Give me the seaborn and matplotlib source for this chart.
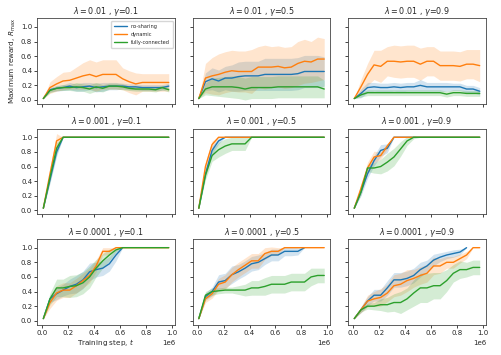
import numpy as np
import seaborn as sns
import matplotlib
matplotlib.use("Agg")
import matplotlib.pyplot as plt

nan = np.nan

# training steps where the runs were evaluated
steps = [10000, 61000, 112000, 162000, 213000, 264000, 315000, 366000, 416000, 467000,
         518000, 569000, 620000, 670000, 721000, 772000, 823000, 874000, 924000, 975000]

lambdas = ["0.01", "0.001", "0.0001"]
gammas = ["0.1", "0.5", "0.9"]
series = ["no-sharing", "dynamic", "fully-connected"]

# one row per panel: (0.01,0.1) (0.01,0.5) (0.01,0.9) (0.001,0.1) ... (0.0001,0.9)
nosharing_mean = [
    [0.02, 0.14, 0.16, 0.17, 0.19, 0.17, 0.18, 0.19, 0.17, 0.18, 0.19, 0.19, 0.19, 0.18, 0.18, 0.17, 0.17, 0.17, 0.17, 0.19],
    [0.02, 0.25, 0.29, 0.26, 0.30, 0.30, 0.32, 0.33, 0.33, 0.33, 0.35, 0.35, 0.35, 0.35, 0.35, 0.36, 0.39, 0.39, 0.39, 0.39],
    [0.02, 0.09, 0.17, 0.18, 0.17, 0.17, 0.18, 0.17, 0.18, 0.18, 0.20, 0.18, 0.18, 0.18, 0.18, 0.18, 0.18, 0.15, 0.15, 0.12],
    [0.03, 0.42, 0.80, 1.00, 1.00, 1.00, 1.00, 1.00, 1.00, 1.00, 1.00, 1.00, 1.00, 1.00, 1.00, 1.00, 1.00, 1.00, 1.00, 1.00],
    [0.03, 0.50, 0.82, 0.95, 1.00, 1.00, 1.00, 1.00, 1.00, 1.00, 1.00, 1.00, 1.00, 1.00, 1.00, 1.00, 1.00, 1.00, 1.00, 1.00],
    [0.03, 0.25, 0.50, 0.68, 0.82, 0.85, 1.00, 1.00, 1.00, 1.00, 1.00, 1.00, 1.00, 1.00, 1.00, 1.00, 1.00, 1.00, 1.00, 1.00],
    [0.03, 0.30, 0.37, 0.42, 0.47, 0.50, 0.56, 0.67, 0.70, 0.72, 0.78, 0.90, 1.00, nan, nan, nan, nan, nan, nan, nan],
    [0.03, 0.33, 0.40, 0.53, 0.55, 0.63, 0.67, 0.72, 0.78, 0.80, 0.85, 0.90, 0.90, 0.95, 0.95, 0.95, 1.00, nan, nan, nan],
    [0.03, 0.15, 0.27, 0.35, 0.35, 0.45, 0.56, 0.56, 0.58, 0.62, 0.70, 0.75, 0.83, 0.87, 0.90, 0.92, 0.94, 1.00, nan, nan],
]
nosharing_spread = [
    [0.00, 0.03, 0.04, 0.04, 0.05, 0.05, 0.06, 0.05, 0.06, 0.06, 0.05, 0.05, 0.04, 0.04, 0.04, 0.04, 0.04, 0.04, 0.04, 0.04],
    [0.00, 0.12, 0.15, 0.15, 0.16, 0.18, 0.20, 0.20, 0.20, 0.20, 0.22, 0.22, 0.22, 0.22, 0.22, 0.22, 0.22, 0.22, 0.22, 0.20],
    [0.00, 0.06, 0.07, 0.06, 0.06, 0.06, 0.06, 0.06, 0.06, 0.06, 0.08, 0.06, 0.06, 0.06, 0.06, 0.05, 0.05, 0.05, 0.05, 0.05],
    [0.00, 0.05, 0.06, 0.00, 0.00, 0.00, 0.00, 0.00, 0.00, 0.00, 0.00, 0.00, 0.00, 0.00, 0.00, 0.00, 0.00, 0.00, 0.00, 0.00],
    [0.00, 0.05, 0.06, 0.04, 0.00, 0.00, 0.00, 0.00, 0.00, 0.00, 0.00, 0.00, 0.00, 0.00, 0.00, 0.00, 0.00, 0.00, 0.00, 0.00],
    [0.00, 0.05, 0.06, 0.07, 0.08, 0.06, 0.00, 0.00, 0.00, 0.00, 0.00, 0.00, 0.00, 0.00, 0.00, 0.00, 0.00, 0.00, 0.00, 0.00],
    [0.00, 0.05, 0.08, 0.08, 0.10, 0.12, 0.12, 0.12, 0.10, 0.10, 0.10, 0.08, 0.00, nan, nan, nan, nan, nan, nan, nan],
    [0.00, 0.05, 0.06, 0.10, 0.10, 0.12, 0.10, 0.10, 0.10, 0.10, 0.08, 0.08, 0.08, 0.06, 0.06, 0.05, 0.00, nan, nan, nan],
    [0.00, 0.04, 0.06, 0.08, 0.08, 0.10, 0.10, 0.10, 0.10, 0.10, 0.10, 0.08, 0.08, 0.06, 0.05, 0.05, 0.04, 0.00, nan, nan],
]
dynamic_mean = [
    [0.02, 0.17, 0.22, 0.26, 0.27, 0.30, 0.33, 0.35, 0.32, 0.35, 0.35, 0.35, 0.29, 0.25, 0.22, 0.24, 0.24, 0.24, 0.24, 0.24],
    [0.02, 0.30, 0.33, 0.35, 0.38, 0.40, 0.39, 0.39, 0.39, 0.45, 0.45, 0.45, 0.46, 0.44, 0.45, 0.50, 0.53, 0.52, 0.56, 0.56],
    [0.02, 0.18, 0.35, 0.48, 0.46, 0.53, 0.53, 0.52, 0.53, 0.53, 0.49, 0.53, 0.53, 0.47, 0.47, 0.47, 0.46, 0.49, 0.49, 0.47],
    [0.03, 0.50, 0.95, 1.00, 1.00, 1.00, 1.00, 1.00, 1.00, 1.00, 1.00, 1.00, 1.00, 1.00, 1.00, 1.00, 1.00, 1.00, 1.00, 1.00],
    [0.03, 0.60, 0.90, 1.00, 1.00, 1.00, 1.00, 1.00, 1.00, 1.00, 1.00, 1.00, 1.00, 1.00, 1.00, 1.00, 1.00, 1.00, 1.00, 1.00],
    [0.03, 0.30, 0.58, 0.73, 0.75, 0.88, 1.00, 1.00, 1.00, 1.00, 1.00, 1.00, 1.00, 1.00, 1.00, 1.00, 1.00, 1.00, 1.00, 1.00],
    [0.03, 0.25, 0.38, 0.42, 0.42, 0.48, 0.55, 0.62, 0.75, 0.95, 0.95, 1.00, 1.00, 1.00, 1.00, 1.00, 1.00, 1.00, 1.00, 1.00],
    [0.03, 0.30, 0.37, 0.50, 0.53, 0.63, 0.70, 0.76, 0.82, 0.82, 0.92, 0.95, 0.95, 1.00, 1.00, 1.00, 1.00, 1.00, 1.00, 1.00],
    [0.03, 0.15, 0.27, 0.30, 0.32, 0.38, 0.48, 0.50, 0.55, 0.58, 0.62, 0.65, 0.75, 0.75, 0.80, 0.80, 0.85, 0.90, 1.00, 1.00],
]
dynamic_spread = [
    [0.00, 0.08, 0.10, 0.12, 0.12, 0.15, 0.18, 0.20, 0.20, 0.20, 0.20, 0.20, 0.15, 0.15, 0.15, 0.12, 0.12, 0.12, 0.12, 0.12],
    [0.00, 0.20, 0.25, 0.28, 0.28, 0.28, 0.28, 0.28, 0.30, 0.28, 0.30, 0.28, 0.28, 0.28, 0.28, 0.30, 0.30, 0.28, 0.30, 0.28],
    [0.00, 0.10, 0.15, 0.20, 0.22, 0.20, 0.22, 0.22, 0.22, 0.22, 0.22, 0.20, 0.20, 0.20, 0.20, 0.20, 0.20, 0.20, 0.20, 0.22],
    [0.00, 0.08, 0.10, 0.00, 0.00, 0.00, 0.00, 0.00, 0.00, 0.00, 0.00, 0.00, 0.00, 0.00, 0.00, 0.00, 0.00, 0.00, 0.00, 0.00],
    [0.00, 0.06, 0.05, 0.00, 0.00, 0.00, 0.00, 0.00, 0.00, 0.00, 0.00, 0.00, 0.00, 0.00, 0.00, 0.00, 0.00, 0.00, 0.00, 0.00],
    [0.00, 0.06, 0.08, 0.08, 0.05, 0.04, 0.00, 0.00, 0.00, 0.00, 0.00, 0.00, 0.00, 0.00, 0.00, 0.00, 0.00, 0.00, 0.00, 0.00],
    [0.00, 0.08, 0.10, 0.10, 0.10, 0.10, 0.10, 0.10, 0.08, 0.05, 0.05, 0.00, 0.00, 0.00, 0.00, 0.00, 0.00, 0.00, 0.00, 0.00],
    [0.00, 0.05, 0.06, 0.08, 0.10, 0.10, 0.10, 0.10, 0.10, 0.10, 0.08, 0.06, 0.05, 0.00, 0.00, 0.00, 0.00, 0.00, 0.00, 0.00],
    [0.00, 0.04, 0.08, 0.10, 0.12, 0.12, 0.15, 0.15, 0.15, 0.12, 0.12, 0.12, 0.12, 0.10, 0.08, 0.08, 0.06, 0.05, 0.00, 0.00],
]
fully_mean = [
    [0.02, 0.13, 0.16, 0.17, 0.17, 0.18, 0.17, 0.15, 0.18, 0.16, 0.19, 0.19, 0.18, 0.16, 0.15, 0.15, 0.15, 0.14, 0.17, 0.14],
    [0.02, 0.15, 0.18, 0.18, 0.18, 0.18, 0.17, 0.15, 0.17, 0.17, 0.17, 0.17, 0.18, 0.18, 0.18, 0.18, 0.18, 0.18, 0.18, 0.15],
    [0.02, 0.07, 0.10, 0.10, 0.10, 0.10, 0.10, 0.10, 0.10, 0.10, 0.10, 0.10, 0.10, 0.10, 0.08, 0.10, 0.10, 0.09, 0.09, 0.09],
    [0.03, 0.45, 0.85, 1.00, 1.00, 1.00, 1.00, 1.00, 1.00, 1.00, 1.00, 1.00, 1.00, 1.00, 1.00, 1.00, 1.00, 1.00, 1.00, 1.00],
    [0.03, 0.48, 0.75, 0.83, 0.88, 0.91, 0.91, 0.91, 1.00, 1.00, 1.00, 1.00, 1.00, 1.00, 1.00, 1.00, 1.00, 1.00, 1.00, 1.00],
    [0.03, 0.25, 0.58, 0.58, 0.60, 0.66, 0.73, 0.84, 0.95, 1.00, 1.00, 1.00, 1.00, 1.00, 1.00, 1.00, 1.00, 1.00, 1.00, 1.00],
    [0.03, 0.30, 0.45, 0.45, 0.47, 0.48, 0.52, 0.60, 0.72, 0.82, 0.90, 0.97, 1.00, 1.00, 1.00, 1.00, 1.00, 1.00, 1.00, 1.00],
    [0.03, 0.35, 0.40, 0.41, 0.42, 0.42, 0.42, 0.42, 0.45, 0.45, 0.47, 0.50, 0.50, 0.50, 0.53, 0.53, 0.53, 0.60, 0.62, 0.62],
    [0.03, 0.15, 0.20, 0.20, 0.22, 0.22, 0.25, 0.25, 0.30, 0.38, 0.45, 0.45, 0.48, 0.48, 0.55, 0.65, 0.70, 0.70, 0.73, 0.73],
]
fully_spread = [
    [0.00, 0.03, 0.03, 0.04, 0.04, 0.06, 0.05, 0.06, 0.06, 0.05, 0.04, 0.04, 0.04, 0.03, 0.03, 0.03, 0.03, 0.03, 0.03, 0.03],
    [0.00, 0.08, 0.12, 0.13, 0.14, 0.15, 0.15, 0.15, 0.15, 0.15, 0.15, 0.15, 0.15, 0.15, 0.15, 0.15, 0.15, 0.15, 0.15, 0.12],
    [0.00, 0.03, 0.04, 0.04, 0.04, 0.04, 0.04, 0.04, 0.04, 0.04, 0.04, 0.04, 0.04, 0.04, 0.04, 0.04, 0.04, 0.04, 0.04, 0.04],
    [0.00, 0.06, 0.08, 0.00, 0.00, 0.00, 0.00, 0.00, 0.00, 0.00, 0.00, 0.00, 0.00, 0.00, 0.00, 0.00, 0.00, 0.00, 0.00, 0.00],
    [0.00, 0.06, 0.08, 0.10, 0.10, 0.09, 0.09, 0.09, 0.00, 0.00, 0.00, 0.00, 0.00, 0.00, 0.00, 0.00, 0.00, 0.00, 0.00, 0.00],
    [0.00, 0.04, 0.05, 0.07, 0.10, 0.12, 0.12, 0.10, 0.06, 0.02, 0.00, 0.00, 0.00, 0.00, 0.00, 0.00, 0.00, 0.00, 0.00, 0.00],
    [0.00, 0.08, 0.12, 0.12, 0.15, 0.15, 0.15, 0.15, 0.12, 0.10, 0.08, 0.03, 0.00, 0.00, 0.00, 0.00, 0.00, 0.00, 0.00, 0.00],
    [0.00, 0.05, 0.05, 0.04, 0.04, 0.04, 0.06, 0.08, 0.10, 0.10, 0.12, 0.12, 0.12, 0.12, 0.12, 0.12, 0.12, 0.12, 0.10, 0.10],
    [0.00, 0.03, 0.04, 0.05, 0.08, 0.10, 0.12, 0.15, 0.15, 0.18, 0.20, 0.20, 0.18, 0.18, 0.15, 0.12, 0.12, 0.10, 0.10, 0.10],
]

means = [nosharing_mean, dynamic_mean, fully_mean]
spreads = [nosharing_spread, dynamic_spread, fully_spread]
colors = sns.color_palette("tab10")[:3]

sns.set_style("ticks")
plt.rcParams["font.family"] = ["DejaVu Sans"]

fig, axes = plt.subplots(3, 3, figsize=(5.01, 3.55), dpi=100, sharex=True, sharey=True)
fig.subplots_adjust(left=0.074, right=0.970, top=0.949, bottom=0.085, wspace=0.127, hspace=0.285)

x = np.array(steps)
for p in range(9):
    ax = axes[p // 3, p % 3]
    for s in range(3):
        m = np.array(means[s][p])
        sd = np.array(spreads[s][p])
        ax.fill_between(x, m - sd, m + sd, color=colors[s], alpha=0.2, linewidth=0)
        sns.lineplot(x=x, y=m, ax=ax, color=colors[s], linewidth=1.0,
                     label=series[s] if p == 0 else None, legend=False)
    ax.set_title(r"$\lambda = %s$ , $\gamma$=%s" % (lambdas[p // 3], gammas[p % 3]),
                 fontsize=5.8, pad=3)
    ax.tick_params(labelsize=5, length=2, width=0.6, pad=1.5)
    for sp in ax.spines.values():
        sp.set_linewidth(0.6)
        sp.set_color("#444444")
    ax.xaxis.get_offset_text().set_fontsize(5)

axes[0, 0].set_ylim(-0.055, 1.12)
axes[0, 0].set_yticks([0.0, 0.2, 0.4, 0.6, 0.8, 1.0])
axes[0, 0].set_xticks([0, 200000, 400000, 600000, 800000, 1000000])
axes[0, 0].set_ylabel(r"Maximum reward, $R_{\max}$", fontsize=5.2, labelpad=2)
axes[2, 0].set_xlabel(r"Training step, $t$", fontsize=5.2, labelpad=1)
axes[0, 0].legend(loc="upper right", fontsize=3.6, handlelength=2.5, borderpad=0.6,
                  labelspacing=0.6, frameon=True)

plt.savefig("out.png", dpi=100)
